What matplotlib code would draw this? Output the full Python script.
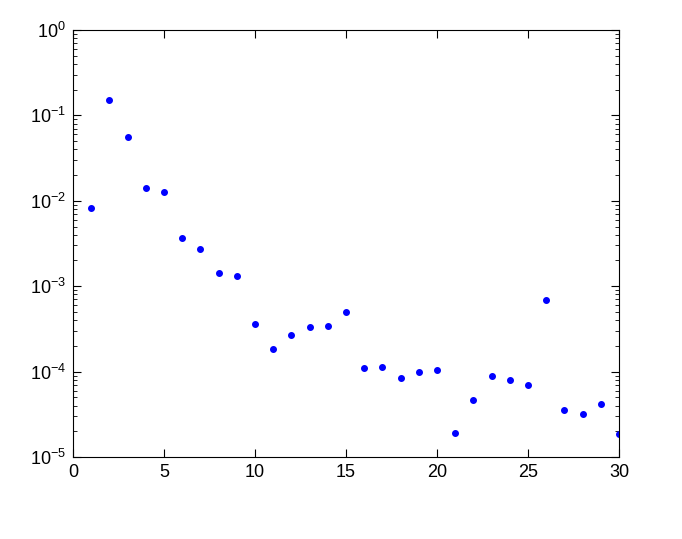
import matplotlib
matplotlib.use("Agg")
import matplotlib.pyplot as plt
import numpy as np

n = np.arange(1, 31)
vals = [8.2e-3, 0.151, 0.0558, 0.0141, 0.0127, 3.67e-3, 2.73e-3, 1.43e-3, 1.31e-3, 3.6e-4,
        1.84e-4, 2.69e-4, 3.3e-4, 3.4e-4, 5.0e-4, 1.1e-4, 1.13e-4, 8.4e-5, 1.0e-4, 1.04e-4,
        1.9e-5, 4.7e-5, 8.9e-5, 7.9e-5, 6.97e-5, 6.9e-4, 3.55e-5, 3.2e-5, 4.2e-5, 1.86e-5]

plt.rcParams['font.family'] = ['Liberation Sans', 'DejaVu Sans']
plt.rcParams['mathtext.fontset'] = 'custom'
plt.rcParams['mathtext.rm'] = 'Liberation Sans'
fig = plt.figure(figsize=(6.82, 5.39), dpi=100)
ax = fig.add_axes([73/682, 1 - 457/539, (619-73)/682, (457-30)/539])
ax.semilogy(n, vals, linestyle='none', marker='o', color='#0000ff', markersize=4)
ax.set_xlim(0, 30)
ax.set_ylim(1e-5, 1)
ax.set_xticks([0, 5, 10, 15, 20, 25, 30])
ax.tick_params(which='both', direction='in', top=True, right=True, labelsize=13)
ax.tick_params(which='major', length=6, pad=5)
ax.tick_params(which='minor', length=3)
for s in ax.spines.values():
    s.set_linewidth(0.8)
fig.savefig("out.png", dpi=100)
